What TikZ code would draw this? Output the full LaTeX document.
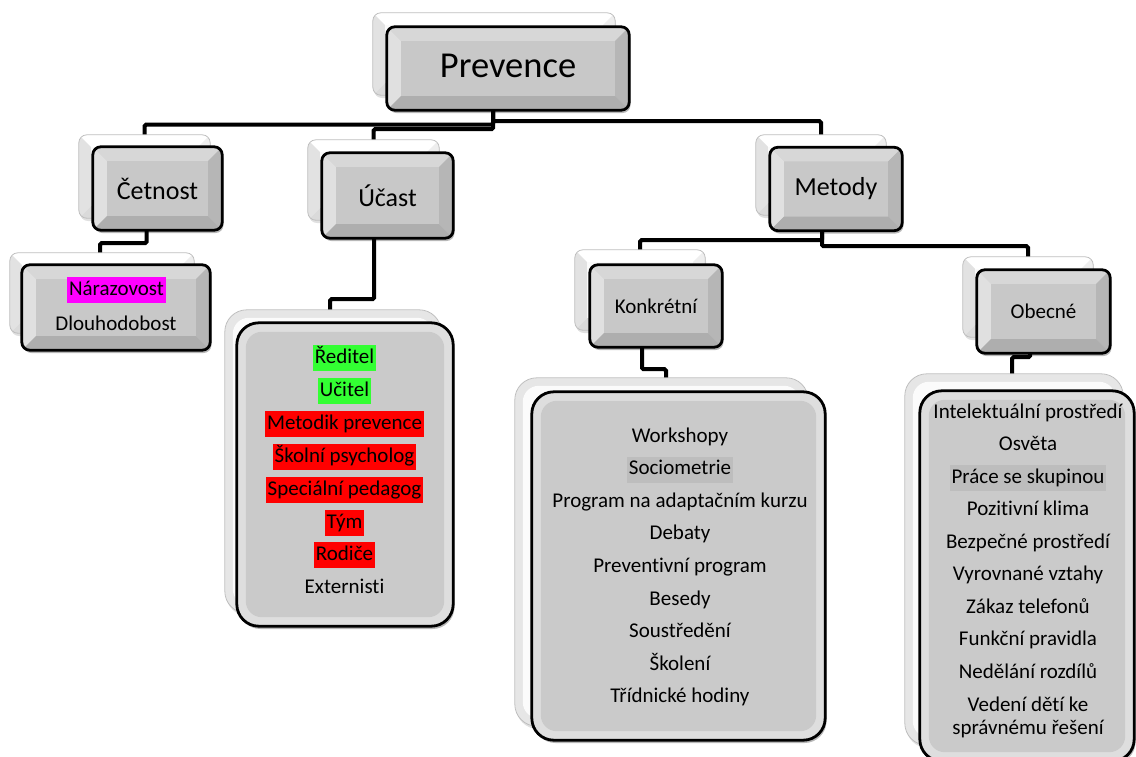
\documentclass[tikz,border=0pt]{standalone}
\usepackage{fontspec}
\setmainfont{Carlito}[Ligatures=NoCommon]
\usetikzlibrary{shadows,backgrounds}
\definecolor{face}{HTML}{C8C8C8}
\definecolor{rimT}{HTML}{D7D7D7}
\definecolor{rimL}{HTML}{E0E0E0}
\definecolor{rimR}{HTML}{B6B6B6}
\definecolor{rimB}{HTML}{AEAEAE}
\definecolor{bface}{HTML}{FAFAFA}
\definecolor{brimT}{HTML}{FFFFFF}
\definecolor{brimL}{HTML}{E2E2E2}
\definecolor{brimR}{HTML}{EEEEEE}
\definecolor{brimB}{HTML}{DADADA}
\definecolor{bline}{HTML}{BEBEBE}
\definecolor{lface}{HTML}{CACACA}
\definecolor{lrim}{HTML}{DEDEDE}
\definecolor{blface}{HTML}{FBFBFB}
\definecolor{blrim}{HTML}{E6E6E6}
\definecolor{hlgreen}{HTML}{33FF33}
\definecolor{hlred}{HTML}{FF0000}
\definecolor{hlmag}{HTML}{FF00FF}
\definecolor{hlgray}{HTML}{BDBDBD}

% bevelled rim: name, depth, radius, top, left, right, bottom, border colour, border width
\newcommand\rims[9]{%
  \begin{scope}
    \clip[rounded corners=#3pt] (#1.north west) rectangle (#1.south east);
    \fill[#4] (#1.north west) -- (#1.north east) -- ([shift={(-#2pt,-#2pt)}]#1.north east) -- ([shift={(#2pt,-#2pt)}]#1.north west) -- cycle;
    \fill[#5] (#1.north west) -- ([shift={(#2pt,-#2pt)}]#1.north west) -- ([shift={(#2pt,#2pt)}]#1.south west) -- (#1.south west) -- cycle;
    \fill[#6] (#1.north east) -- ([shift={(-#2pt,-#2pt)}]#1.north east) -- ([shift={(-#2pt,#2pt)}]#1.south east) -- (#1.south east) -- cycle;
    \fill[#7] (#1.south west) -- ([shift={(#2pt,#2pt)}]#1.south west) -- ([shift={(-#2pt,#2pt)}]#1.south east) -- (#1.south east) -- cycle;
  \end{scope}
  \draw[#8, line width=#9, rounded corners=#3pt] (#1.north west) rectangle (#1.south east);
}
% list box face: name, inset, outer radius, inner radius, face colour, border colour, border width
\newcommand\lface[7]{%
  \fill[#5, rounded corners=#4pt] ([shift={(#2pt,-#2pt)}]#1.north west) rectangle ([shift={(-#2pt,#2pt)}]#1.south east);
  \draw[#6, line width=#7, rounded corners=#3pt] (#1.north west) rectangle (#1.south east);
}

\tikzset{
  frontbox/.style={rectangle, rounded corners=8pt, inner sep=0pt, fill=face, draw=none,
    drop shadow={opacity=0.28, shadow xshift=1.5pt, shadow yshift=-3pt, fill=black}},
  backbox/.style={rectangle, rounded corners=8pt, inner sep=0pt, fill=bface, draw=none,
    drop shadow={opacity=0.12, shadow xshift=1pt, shadow yshift=-3pt, fill=black}},
  frontlist/.style={rectangle, rounded corners=22pt, inner sep=0pt, fill=lrim, draw=none,
    drop shadow={opacity=0.28, shadow xshift=1.5pt, shadow yshift=-3pt, fill=black}},
  backlist/.style={rectangle, rounded corners=22pt, inner sep=0pt, fill=blrim, draw=none,
    drop shadow={opacity=0.12, shadow xshift=1pt, shadow yshift=-3pt, fill=black}},
  lvlone/.style={font=\fontsize{36.5}{40}\selectfont},
  lvltwo/.style={font=\fontsize{26}{30}\selectfont},
  lvlthree/.style={font=\fontsize{21}{25}\selectfont},
  listitem/.style={font=\fontsize{21}{25}\selectfont, inner xsep=2pt, inner ysep=2.5pt,
    text height=15.5pt, text depth=5.5pt},
  conn/.style={draw=black, line width=4pt, rounded corners=1.5pt},
}

\begin{document}
\begin{tikzpicture}[x=1pt,y=-1pt]
\useasboundingbox (0,0) rectangle (1136,756);

% ---------- Prevence
\node[backbox, minimum width=242pt, minimum height=82pt] (prevB) at (494,54) {};
\rims{prevB}{12}{8}{brimT}{brimL}{brimR}{brimB}{bline}{0.8pt}
\node[frontbox, lvlone, text depth=6pt, minimum width=242pt, minimum height=83pt] (prev) at (508,68.5) {Prevence};
\rims{prev}{14}{8}{rimT}{rimL}{rimR}{rimB}{black}{2.8pt}

% ---------- Četnost
\node[backbox, minimum width=131pt, minimum height=83pt] (cetB) at (144.5,176.5) {};
\rims{cetB}{12}{8}{brimT}{brimL}{brimR}{brimB}{bline}{0.8pt}
\node[frontbox, lvltwo, minimum width=129pt, minimum height=83pt] (cet) at (157.5,188.5) {Četnost};
\rims{cet}{14}{8}{rimT}{rimL}{rimR}{rimB}{black}{2.8pt}

% ---------- Nárazovost / Dlouhodobost
\node[backbox, minimum width=184pt, minimum height=80pt] (narB) at (102,293) {};
\rims{narB}{12}{8}{brimT}{brimL}{brimR}{brimB}{bline}{0.8pt}
\node[frontbox, minimum width=188pt, minimum height=85pt] (nar) at (116,307.5) {};
\rims{nar}{14}{8}{rimT}{rimL}{rimR}{rimB}{black}{2.8pt}
\node[listitem, fill=hlmag] (nar1) at (116.5,290) {Nárazovost};
\node[listitem] (nar2) at (116,325) {Dlouhodobost};

% ---------- Účast
\node[backbox, minimum width=131pt, minimum height=80pt] (ucaB) at (373.5,180) {};
\rims{ucaB}{12}{8}{brimT}{brimL}{brimR}{brimB}{bline}{0.8pt}
\node[frontbox, lvltwo, minimum width=131pt, minimum height=85pt] (uca) at (387.5,195.5) {Účast};
\rims{uca}{14}{8}{rimT}{rimL}{rimR}{rimB}{black}{2.8pt}

% ---------- Účast list
\node[backlist, minimum width=216pt, minimum height=303pt] (ucaLB) at (333,461.5) {};
\lface{ucaLB}{8}{22}{16}{blface}{bline}{0.8pt}
\node[frontlist, minimum width=216pt, minimum height=303pt] (ucaL) at (345,474.5) {};
\lface{ucaL}{9}{22}{16}{lface}{black}{2.8pt}
\node[listitem, fill=hlgreen] (u1) at (344.5,358) {Ředitel};
\node[listitem, fill=hlgreen] (u2) at (344.5,391) {Učitel};
\node[listitem, fill=hlred] (u3) at (344.5,424) {Metodik prevence};
\node[listitem, fill=hlred] (u4) at (344.5,457) {Školní psycholog};
\node[listitem, fill=hlred] (u5) at (344.5,490) {Speciální pedagog};
\node[listitem, fill=hlred] (u6) at (344.5,523) {Tým};
\node[listitem, fill=hlred] (u7) at (344.5,555) {Rodiče};
\node[listitem] (u8) at (344.5,588) {Externisti};

% ---------- Metody
\node[backbox, minimum width=130pt, minimum height=80pt] (metB) at (821,175) {};
\rims{metB}{12}{8}{brimT}{brimL}{brimR}{brimB}{bline}{0.8pt}
\node[frontbox, lvltwo, minimum width=132pt, minimum height=83pt] (met) at (836,189) {Metody};
\rims{met}{14}{8}{rimT}{rimL}{rimR}{rimB}{black}{2.8pt}

% ---------- Konkrétní
\node[backbox, minimum width=130pt, minimum height=80pt] (konB) at (640,290) {};
\rims{konB}{12}{8}{brimT}{brimL}{brimR}{brimB}{bline}{0.8pt}
\node[frontbox, lvlthree, minimum width=132pt, minimum height=82pt] (kon) at (656,306) {Konkrétní};
\rims{kon}{14}{8}{rimT}{rimL}{rimR}{rimB}{black}{2.8pt}

% ---------- Obecné
\node[backbox, minimum width=130pt, minimum height=80pt] (obeB) at (1028,297) {};
\rims{obeB}{12}{8}{brimT}{brimL}{brimR}{brimB}{bline}{0.8pt}
\node[frontbox, lvlthree, minimum width=133pt, minimum height=83pt] (obe) at (1043.5,311.5) {Obecné};
\rims{obe}{14}{8}{rimT}{rimL}{rimR}{rimB}{black}{2.8pt}

% ---------- Konkrétní list
\node[backlist, minimum width=293pt, minimum height=348pt] (konLB) at (661.5,552) {};
\lface{konLB}{8}{22}{16}{blface}{bline}{0.8pt}
\node[frontlist, minimum width=293pt, minimum height=348pt] (konL) at (678.5,566) {};
\lface{konL}{9}{22}{16}{lface}{black}{2.8pt}
\node[listitem] (k1) at (680,437) {Workshopy};
\node[listitem, fill=hlgray] (k2) at (680,469.6) {Sociometrie};
\node[listitem] (k3) at (680,502.2) {Program na adaptačním kurzu};
\node[listitem] (k4) at (680,534.8) {Debaty};
\node[listitem] (k5) at (680,567.4) {Preventivní program};
\node[listitem] (k6) at (680,600) {Besedy};
\node[listitem] (k7) at (680,632.6) {Soustředění};
\node[listitem] (k8) at (680,665.2) {Školení};
\node[listitem] (k9) at (680,697.8) {Třídnické hodiny};

% ---------- Obecné list
\node[backlist, minimum width=218pt, minimum height=371pt] (obeLB) at (1014,559.5) {};
\lface{obeLB}{8}{22}{16}{blface}{bline}{0.8pt}
\node[frontlist, minimum width=214pt, minimum height=370pt] (obeL) at (1027,576) {};
\lface{obeL}{9}{22}{16}{lface}{black}{2.8pt}
\node[listitem] (o1) at (1028,413) {Intelektuální prostředí};
\node[listitem] (o2) at (1028,445.5) {Osvěta};
\node[listitem, fill=hlgray] (o3) at (1028,478) {Práce se skupinou};
\node[listitem] (o4) at (1028,510.5) {Pozitivní klima};
\node[listitem] (o5) at (1028,543) {Bezpečné prostředí};
\node[listitem] (o6) at (1028,575.5) {Vyrovnané vztahy};
\node[listitem] (o7) at (1028,608) {Zákaz telefonů};
\node[listitem] (o8) at (1028,640.5) {Funkční pravidla};
\node[listitem] (o9) at (1028,673) {Nedělání rozdílů};
\node[lvlthree, align=center, inner sep=0pt] (o10) at (1028,717.5) {Vedení dětí ke\\[-2pt]správnému řešení};

% ---------- connectors
\begin{pgfonlayer}{background}
\draw[conn] ([xshift=-15pt]prev.south) -- ++(0,11) -| (metB.north);
\draw[conn] ([xshift=-15pt]prev.south) -- ++(0,14.5) -| (cetB.north);
\draw[conn] ([xshift=-15pt]prev.south) -- ++(0,19) -| (ucaB.north);
\draw[conn] ([xshift=-11pt]cet.south) -- ++(0,13) -| ([xshift=-2pt]narB.north);
\draw[conn] ([xshift=-13.5pt]uca.south) -- ++(0,61) -| ([xshift=-3pt]ucaLB.north);
\draw[conn] ([xshift=-14pt]met.south) -- ++(0,9.5) -| (konB.north);
\draw[conn] ([xshift=-14pt]met.south) -- ++(0,15.5) -| (obeB.north);
\draw[conn] ([xshift=-14pt]kon.south) -- ++(0,22) -| ([xshift=4.5pt]konLB.north);
\draw[conn] ([xshift=-13.5pt]obe.south) -- ++(0,4) -| ([xshift=-2pt]obeLB.north);
\end{pgfonlayer}
\end{tikzpicture}
\end{document}
